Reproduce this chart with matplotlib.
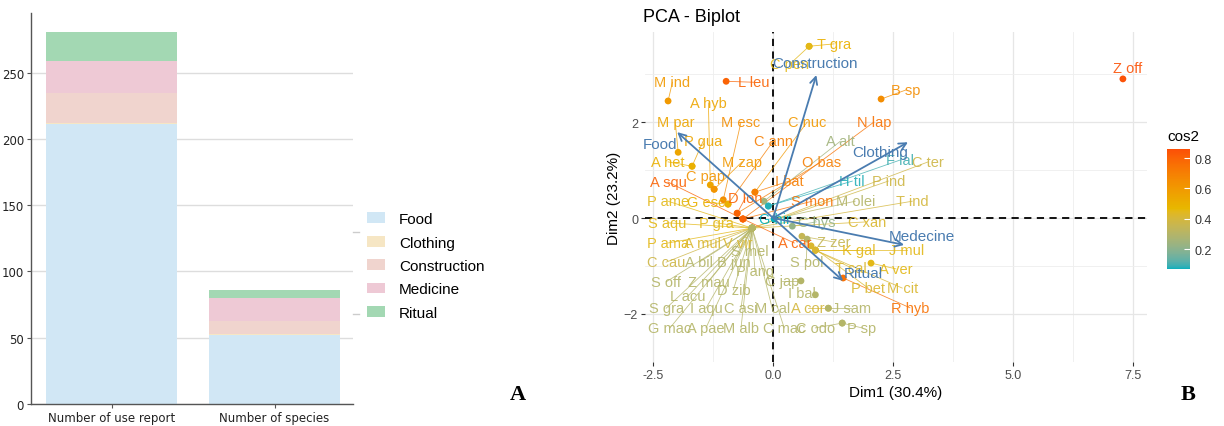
import numpy as np
import matplotlib
matplotlib.use('Agg')
import matplotlib.pyplot as plt
from matplotlib.colors import ListedColormap, Normalize, to_rgb
from matplotlib.patches import Patch
from matplotlib.lines import Line2D

plt.rcParams['font.family'] = ['Liberation Sans', 'DejaVu Sans']

# ---- Panel A data ----
bar_cats = ['Number of use report', 'Number of species']
use_types = ['Food', 'Clothing', 'Construction', 'Medicine', 'Ritual']
food = [211, 52]
clothing = [1, 1]
construction = [23, 10]
medicine = [24, 17]
ritual = [22, 6]
bar_colors = ['#d1e7f5', '#f6e6c4', '#f0d4ce', '#eec9d5', '#a3d8b3']

# ---- Panel B data (individuals) ----
species = ['Z off', 'T gra', 'C pen', 'M ind', 'L leu', 'A hyb', 'B sp', 'M par', 'M esc',
           'C nuc', 'N lap', 'P gua', 'C ann', 'A alt', 'F lal', 'C ter', 'A het', 'M zap',
           'O bas', 'A squ', 'C pap', 'I bat', 'H til', 'P ind', 'P ame', 'G esc', 'D lon',
           'S mon', 'M olei', 'T ind', 'S aqu', 'P gra', 'G hir', 'C hys', 'C xan', 'P ama',
           'A mul', 'V vir', 'A car', 'Z zer', 'K gal', 'J mul', 'S mel', 'C cau', 'A bil',
           'B jun', 'S pol', 'P ang', 'T cal', 'A ver', 'S off', 'Z mau', 'C jap', 'L acu',
           'D zib', 'I bal', 'P bet', 'M cit', 'S gra', 'I aqu', 'C asi', 'M cal', 'A cor',
           'J sam', 'R hyb', 'G mac', 'A pae', 'M alb', 'C mac', 'C odo', 'P sp']
dim1 = [7.29, 0.75, 0.75, -2.19, -0.98, -1.31, 2.25, -1.98, -1.04,
        -0.38, -0.63, -1.69, -0.94, -0.19, -0.10, -0.44, -1.69, -1.23,
        -0.75, -0.63, -1.23, -0.38, -0.10, -0.44, -0.44, -0.94, -0.75,
        -0.63, 0.02, -0.44, -0.44, -0.44, 0.02, 0.40, -0.44, -0.44,
        -0.44, -0.44, -0.63, 0.60, 0.88, 0.88, -0.44, -0.44, -0.44,
        -0.44, 0.71, -0.44, 0.88, 2.04, -0.44, -0.44, 0.58, -0.44,
        -0.44, 0.88, 0.79, 0.88, -0.44, -0.44, -0.44, -0.44, 1.15,
        1.15, 1.46, -0.44, -0.44, -0.44, -0.44, 1.44, 1.44]
dim2 = [2.90, 3.58, 3.58, 2.44, 2.85, 0.69, 2.48, 1.37, 0.38,
        0.54, -0.02, 1.08, 0.29, 0.35, 0.25, -0.21, 1.08, 0.60,
        0.10, -0.02, 0.60, 0.54, 0.25, -0.21, -0.21, 0.29, 0.10,
        -0.02, -0.02, -0.21, -0.21, -0.21, -0.02, -0.17, -0.21, -0.21,
        -0.21, -0.21, -0.02, -0.38, -0.67, -0.67, -0.21, -0.21, -0.21,
        -0.21, -0.44, -0.21, -0.67, -0.94, -0.21, -0.21, -1.31, -0.21,
        -0.21, -1.60, -0.58, -0.67, -0.21, -0.21, -0.21, -0.21, -1.88,
        -1.88, -1.25, -0.21, -0.21, -0.21, -0.21, -2.19, -2.19]
cos2 = [0.85, 0.50, 0.45, 0.60, 0.80, 0.55, 0.65, 0.55, 0.65,
        0.60, 0.75, 0.55, 0.70, 0.25, 0.10, 0.38, 0.50, 0.60,
        0.70, 0.80, 0.62, 0.70, 0.08, 0.38, 0.45, 0.50, 0.80,
        0.75, 0.30, 0.40, 0.45, 0.45, 0.05, 0.22, 0.42, 0.45,
        0.42, 0.42, 0.80, 0.35, 0.45, 0.45, 0.30, 0.38, 0.30,
        0.30, 0.30, 0.30, 0.42, 0.45, 0.30, 0.30, 0.30, 0.30,
        0.30, 0.30, 0.42, 0.42, 0.30, 0.30, 0.30, 0.30, 0.40,
        0.30, 0.75, 0.30, 0.30, 0.30, 0.30, 0.30, 0.30]
# repelled label positions (data units)
lab_x = [7.38, 1.27, 0.35, -2.10, -0.40, -1.35, 2.77, -2.04, -0.67,
         0.71, 2.10, -1.46, 0.00, 1.40, 2.65, 3.23, -2.19, -0.65,
         1.00, -2.19, -1.40, 0.33, 1.65, 2.40, -2.19, -1.40, -0.58,
         0.81, 1.71, 2.90, -2.21, -1.19, 0.04, 0.90, 1.96, -2.19,
         -1.48, -0.73, 0.44, 1.27, 1.79, 2.79, -0.48, -2.23, -1.54,
         -0.81, 0.69, -0.38, 1.63, 2.56, -2.23, -1.35, 0.19, -1.77,
         -0.83, 0.60, 1.98, 2.69, -2.23, -1.40, -0.67, -0.02, 0.73,
         1.63, 2.85, -2.15, -1.40, -0.67, 0.23, 0.88, 1.85]
lab_y = [3.13, 3.63, 3.21, 2.83, 2.83, 2.40, 2.67, 2.00, 2.00,
         2.00, 2.00, 1.60, 1.60, 1.60, 1.21, 1.17, 1.17, 1.17,
         1.17, 0.75, 0.87, 0.77, 0.77, 0.77, 0.35, 0.33, 0.42,
         0.35, 0.35, 0.35, -0.10, -0.10, -0.02, -0.08, -0.08, -0.52,
         -0.52, -0.52, -0.52, -0.50, -0.67, -0.67, -0.69, -0.92, -0.92,
         -0.92, -0.92, -1.10, -1.04, -1.06, -1.33, -1.33, -1.31, -1.62,
         -1.50, -1.56, -1.46, -1.46, -1.88, -1.88, -1.88, -1.88, -1.88,
         -1.88, -1.87, -2.29, -2.29, -2.29, -2.29, -2.29, -2.29]

# ---- Panel B data (variables) ----
variables = ['Construction', 'Food', 'Clothing', 'Medecine', 'Ritual']
var_dim1 = [0.90, -2.00, 2.81, 2.73, 1.46]
var_dim2 = [2.98, 1.79, 1.58, -0.56, -1.31]
var_lab_x = [0.88, -2.35, 2.23, 3.10, 1.88]
var_lab_y = [3.23, 1.54, 1.38, -0.37, -1.15]


# ggplot-like gradient: interpolate in CIE Lab
def srgb_to_lab(rgb):
    c = np.array(rgb, dtype=float)
    c = np.where(c <= 0.04045, c / 12.92, ((c + 0.055) / 1.055) ** 2.4)
    m = np.array([[0.4124, 0.3576, 0.1805], [0.2126, 0.7152, 0.0722], [0.0193, 0.1192, 0.9505]])
    xyz = m @ c / np.array([0.95047, 1.0, 1.08883])
    f = np.where(xyz > 0.008856, np.cbrt(xyz), 7.787 * xyz + 16 / 116)
    return np.array([116 * f[1] - 16, 500 * (f[0] - f[1]), 200 * (f[1] - f[2])])


def lab_to_srgb(lab):
    L, a, b = lab
    fy = (L + 16) / 116
    f = np.array([fy + a / 500, fy, fy - b / 200])
    xyz = np.where(f ** 3 > 0.008856, f ** 3, (f - 16 / 116) / 7.787) * np.array([0.95047, 1.0, 1.08883])
    m = np.array([[3.2406, -1.5372, -0.4986], [-0.9689, 1.8758, 0.0415], [0.0557, -0.2040, 1.0570]])
    c = m @ xyz
    c = np.where(c <= 0.0031308, 12.92 * c, 1.055 * np.clip(c, 0, None) ** (1 / 2.4) - 0.055)
    return np.clip(c, 0, 1)


stops = [srgb_to_lab(to_rgb(h)) for h in ['#00AFBB', '#E7B800', '#FC4E07']]
grad = []
for t in np.linspace(0, 1, 256):
    if t <= 0.5:
        lab = stops[0] + (stops[1] - stops[0]) * (t / 0.5)
    else:
        lab = stops[1] + (stops[2] - stops[1]) * ((t - 0.5) / 0.5)
    grad.append(lab_to_srgb(lab))
cmap = ListedColormap(grad)
norm = Normalize(vmin=0.07, vmax=0.86)

# ---- Figure ----
fig = plt.figure(figsize=(12.24, 4.27), dpi=100)

# ===== Panel A =====
axA = fig.add_axes([0.0253, 0.0515, 0.2631, 0.9155])
xpos = np.arange(len(bar_cats))
bottom = np.zeros(len(bar_cats))
for vals, name, col in zip([food, clothing, construction, medicine, ritual], use_types, bar_colors):
    axA.bar(xpos, vals, bottom=bottom, color=col, width=0.8, label=name, zorder=2)
    bottom += np.array(vals)
axA.set_xlim(-0.494, 1.481)
axA.set_ylim(0, 295)
axA.set_yticks([0, 50, 100, 150, 200, 250])
axA.set_xticks(xpos)
axA.set_xticklabels(bar_cats)
narrow = ['Liberation Sans Narrow', 'DejaVu Sans']
for lbl in axA.get_yticklabels() + axA.get_xticklabels():
    lbl.set_family(narrow)
    lbl.set_fontsize(8.5)
    lbl.set_color('#222222')
axA.yaxis.grid(True, color='#dddddd', lw=1.0, zorder=0)
axA.set_axisbelow(True)
for s in ['top', 'right']:
    axA.spines[s].set_visible(False)
for s in ['left', 'bottom']:
    axA.spines[s].set_color('#555555')
    axA.spines[s].set_linewidth(1.0)
axA.tick_params(axis='both', length=3, color='#555555', pad=2)

handles = [Patch(facecolor=c, edgecolor='none') for c in bar_colors]
fig.legend(handles, use_types, loc='center left', bbox_to_anchor=(367 / 1224, 1 - 267 / 427),
           frameon=False, fontsize=11, handlelength=1.2, handleheight=0.7,
           handletextpad=0.9, labelspacing=0.62, borderpad=0, borderaxespad=0)
# stray marks at right edge of panel A
for yy in [233, 315]:
    fig.add_artist(Line2D([353 / 1224, 359 / 1224], [1 - yy / 427] * 2, color='#cccccc', lw=1))

fig.text(518 / 1224, 1 - 395 / 427, 'A', fontsize=16, fontweight='bold',
         family=['Liberation Serif', 'DejaVu Serif'], ha='center', va='center')

# ===== Panel B =====
axB = fig.add_axes([0.527, 0.150, 0.410, 0.773])
axB.set_xlim(-2.67, 7.79)
axB.set_ylim(-2.46, 3.88)
axB.set_xticks([-2.5, 0.0, 2.5, 5.0, 7.5])
axB.set_xticklabels(['-2.5', '0.0', '2.5', '5.0', '7.5'])
axB.set_yticks([-2, 0, 2])
axB.set_xticks([-1.25, 1.25, 3.75, 6.25], minor=True)
axB.set_yticks([-3, -1, 1, 3], minor=True)
axB.grid(True, which='major', color='#e6e6e6', lw=0.9)
axB.grid(True, which='minor', color='#eeeeee', lw=0.6)
axB.set_axisbelow(True)
for s in axB.spines.values():
    s.set_visible(False)
axB.tick_params(axis='both', which='major', length=3, color='#333333', labelsize=9,
                labelcolor='#4d4d4d', pad=2)
axB.tick_params(axis='both', which='minor', length=0)
axB.axhline(0, color='black', ls=(0, (4, 3)), lw=1.3, zorder=1)
axB.axvline(0, color='black', ls=(0, (4, 3)), lw=1.3, zorder=1)

for i, name in enumerate(species):
    col = cmap(norm(cos2[i]))
    px, py = dim1[i], dim2[i]
    lx, ly = lab_x[i], lab_y[i]
    if np.hypot(lx - px, (ly - py) * 1.08) > 0.35:
        axB.plot([px, lx], [py, ly], color=col, lw=0.6, alpha=0.8, zorder=2)
    axB.text(lx, ly, name, color=col, fontsize=10.5, ha='center', va='center', alpha=0.9, zorder=4)
axB.scatter(dim1, dim2, c=cos2, cmap=cmap, norm=norm, s=24, zorder=3, edgecolors='none')

var_col = '#4a7cb0'
for i, name in enumerate(variables):
    axB.annotate('', xy=(var_dim1[i], var_dim2[i]), xytext=(0, 0),
                 arrowprops=dict(arrowstyle='->', color=var_col, lw=1.3,
                                 mutation_scale=13, shrinkA=0, shrinkB=0), zorder=5)
    axB.text(var_lab_x[i], var_lab_y[i], name, color=var_col, fontsize=11,
             ha='center', va='center', zorder=6)

axB.set_xlabel('Dim1 (30.4%)', fontsize=11, labelpad=3)
axB.set_ylabel('Dim2 (23.2%)', fontsize=11, labelpad=2)
fig.text(643 / 1224, 1 - 18 / 427, 'PCA - Biplot', fontsize=13, ha='left', va='center')

cax = fig.add_axes([1167 / 1224, 1 - 270 / 427, 23 / 1224, 120 / 427])
sm = plt.cm.ScalarMappable(cmap=cmap, norm=norm)
cb = fig.colorbar(sm, cax=cax, ticks=[0.2, 0.4, 0.6, 0.8])
cb.outline.set_visible(False)
cb.ax.tick_params(color='white', direction='in', length=4, labelsize=9, labelcolor='#333333', pad=3)
cb.ax.set_yticklabels(['0.2', '0.4', '0.6', '0.8'])
fig.text(1167 / 1224, 1 - 137 / 427, 'cos2', fontsize=11, ha='left', va='center')

fig.text(1188 / 1224, 1 - 395 / 427, 'B', fontsize=16, fontweight='bold',
         family=['Liberation Serif', 'DejaVu Serif'], ha='center', va='center')

fig.savefig('out.png', dpi=100, facecolor='white')
